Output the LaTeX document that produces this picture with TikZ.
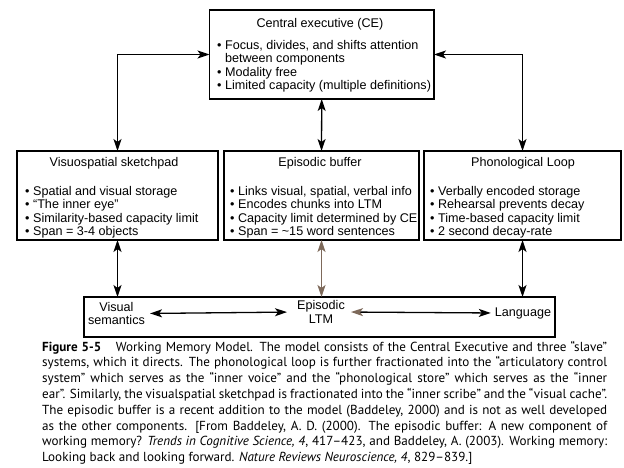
\documentclass[tikz,border=0pt]{standalone}
\usepackage{fontspec}
\setmainfont{Liberation Sans}
\newfontfamily\capfont{PT Sans}
\usetikzlibrary{arrows.meta}
\definecolor{epi}{RGB}{125,105,90}
\begin{document}
\begin{tikzpicture}[x=1pt,y=-1pt,
  box/.style={draw, line width=1.5pt, inner sep=0pt, outer sep=0pt},
  ttl/.style={inner sep=0pt, anchor=base, font=\fontsize{12.6}{13.4}\selectfont},
  lst/.style={inner sep=0pt, anchor=base west, font=\fontsize{12.6}{13.4}\selectfont},
  btx/.style={inner sep=0pt, align=center, font=\fontsize{12.6}{13.5}\selectfont},
  tip/.tip={Stealth[length=12pt,width=8pt,inset=3pt]},
  etip/.tip={Stealth[length=12pt,width=8pt,inset=3pt,color=epi]},
  arr/.style={line width=1.3pt, tip-tip},
]
\useasboundingbox[fill=white] (0,0) rectangle (624,468);

% boxes
\node[box, minimum width=224.5pt, minimum height=89pt] (ce) at (321.75,54.5) {};
\node[box, minimum width=201pt, minimum height=89pt] (vs) at (117.5,195.5) {};
\node[box, minimum width=195pt, minimum height=89pt] (eb) at (321.5,195.5) {};
\node[box, minimum width=197pt, minimum height=89pt] (pl) at (522.5,195.5) {};
\node[box, minimum width=471pt, minimum height=40pt] (lb) at (319.5,317) {};

% central executive text
\node[ttl] (cet) at (320,27.5) {Central executive (CE)};
\node[lst] (cel) at (217,49.5) {\begin{minipage}[t]{215pt}\raggedright
\textbullet\ Focus, divides, and shifts attention\\
\hphantom{\textbullet\ }between components\\
\textbullet\ Modality free\\
\textbullet\ Limited capacity (multiple definitions)\end{minipage}};

% visuospatial
\node[ttl] (vst) at (114,166.5) {Visuospatial sketchpad};
\node[lst] (vsl) at (25,195.5) {\begin{minipage}[t]{190pt}\raggedright
\textbullet\ Spatial and visual storage\\
\textbullet\ “The inner eye”\\
\textbullet\ Similarity-based capacity limit\\
\textbullet\ Span = 3-4 objects\end{minipage}};

% episodic buffer
\node[ttl] (ebt) at (320,166.5) {Episodic buffer};
\node[lst] (ebl) at (230,195.5) {\begin{minipage}[t]{188pt}\raggedright
\textbullet\ Links visual, spatial, verbal info\\
\textbullet\ Encodes chunks into LTM\\
\textbullet\ Capacity limit determined by CE\\
\textbullet\ Span = \textasciitilde 15 word sentences\end{minipage}};

% phonological loop
\node[ttl] (plt) at (523,166.5) {Phonological Loop};
\node[lst] (pll) at (430,195.5) {\begin{minipage}[t]{188pt}\raggedright
\textbullet\ Verbally encoded storage\\
\textbullet\ Rehearsal prevents decay\\
\textbullet\ Time-based capacity limit\\
\textbullet\ 2 second decay-rate\end{minipage}};

% bottom box text
\node[btx] (vsem) at (116.5,313.5) {Visual\\semantics};
\node[btx] (eltm) at (321,312) {Episodic\\LTM};
\node[btx] (lang) at (523,313) {Language};

% connectors
\draw[arr] (ce.west) -| (vs.north);
\draw[arr] (ce.east) -| (pl.north);
\draw[arr] (ce.south) -- (eb.north);
\draw[arr] (vs.south) -- (vs.south |- lb.north);
\draw[line width=1.3pt, draw=epi, etip-etip] (eb.south) -- (eb.south |- lb.north);
\draw[arr] (pl.south) -- (pl.south |- lb.north);
\draw[arr, shorten <=5pt, shorten >=10pt] (vsem.east) -- (eltm.west);
\draw[line width=1.3pt, etip-tip, shorten <=6pt, shorten >=4pt] (eltm.east) -- (lang.west);

% caption
\node[inner sep=0pt, anchor=base west] (cap) at (42,351) {\begin{minipage}[t]{565pt}\capfont\fontsize{13.1}{15.8}\selectfont\parindent=0pt\emergencystretch=2em
\textbf{Figure 5-5}\hspace{0.8em} Working Memory Model. The model consists of the Central Executive and three “slave”\linebreak
systems, which it directs. The phonological loop is further fractionated into the “articulatory control\linebreak
system” which serves as the “inner voice” and the “phonological store” which serves as the “inner\linebreak
ear”. Similarly, the visualspatial sketchpad is fractionated into the “inner scribe” and the “visual cache”.\linebreak
The episodic buffer is a recent addition to the model (Baddeley, 2000) and is not as well developed\linebreak
as the other components. [From Baddeley, A. D. (2000). The episodic buffer: A new component of\linebreak
working memory? \textit{Trends in Cognitive Science, 4}, 417–423, and Baddeley, A. (2003). Working memory:\linebreak
Looking back and looking forward. \textit{Nature Reviews Neuroscience, 4}, 829–839.]\end{minipage}};
\end{tikzpicture}
\end{document}
